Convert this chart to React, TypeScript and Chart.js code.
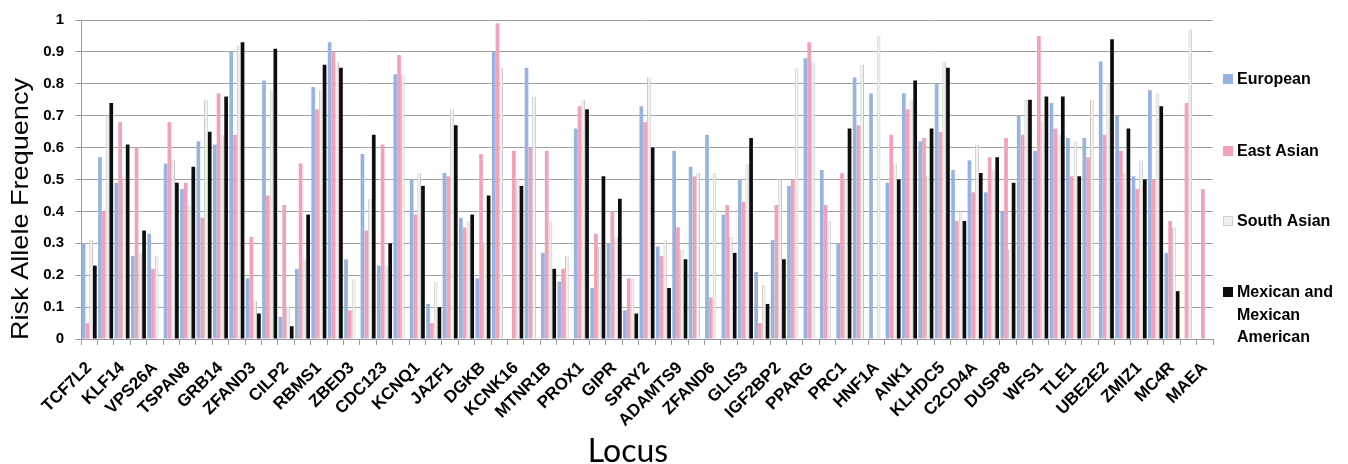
import React, { useEffect, useRef } from 'react';
import { Chart, registerables } from 'chart.js';

Chart.register(...registerables);

// Loci whose labels are visible on the axis (every other category)
const shownLoci = [
  'TCF7L2', 'KLF14', 'VPS26A', 'TSPAN8', 'GRB14', 'ZFAND3', 'CILP2', 'RBMS1', 'ZBED3',
  'CDC123', 'KCNQ1', 'JAZF1', 'DGKB', 'KCNK16', 'MTNR1B', 'PROX1', 'GIPR', 'SPRY2',
  'ADAMTS9', 'ZFAND6', 'GLIS3', 'IGF2BP2', 'PPARG', 'PRC1', 'HNF1A', 'ANK1', 'KLHDC5',
  'C2CD4A', 'DUSP8', 'WFS1', 'TLE1', 'UBE2E2', 'ZMIZ1', 'MC4R', 'MAEA',
];

const european = [
  0.30, 0.57, 0.49, 0.26, 0.33, 0.55, 0.47, 0.62, 0.61, 0.90,
  0.19, 0.81, 0.07, 0.22, 0.79, 0.93, 0.25, 0.58, 0.23, 0.83,
  0.50, 0.11, 0.52, 0.38, 0.19, 0.90, null, 0.85, 0.27, 0.18,
  0.66, 0.16, 0.30, 0.09, 0.73, 0.29, 0.59, 0.54, 0.64, 0.39,
  0.50, 0.21, 0.31, 0.48, 0.88, 0.53, 0.30, 0.82, 0.77, 0.49,
  0.77, 0.62, 0.80, 0.53, 0.56, 0.46, 0.40, 0.70, 0.59, 0.74,
  0.63, 0.63, 0.87, 0.70, 0.51, 0.78, 0.27, null, null,
];

const eastAsian = [
  0.05, 0.40, 0.68, 0.60, 0.22, 0.68, 0.49, 0.38, 0.77, 0.64,
  0.32, 0.45, 0.42, 0.55, 0.72, 0.90, 0.09, 0.34, 0.61, 0.89,
  0.39, 0.05, 0.51, 0.35, 0.58, 0.99, 0.59, 0.60, 0.59, 0.22,
  0.73, 0.33, 0.40, 0.19, 0.68, 0.26, 0.35, 0.51, 0.13, 0.42,
  0.43, 0.05, 0.42, 0.50, 0.93, 0.42, 0.52, 0.67, null, 0.64,
  0.72, 0.63, 0.65, 0.37, 0.46, 0.57, 0.63, 0.64, 0.95, 0.66,
  0.51, 0.57, 0.64, 0.59, 0.47, 0.50, 0.37, 0.74, 0.47,
];

const southAsian = [
  0.31, 0.70, 0.50, 0.27, 0.26, 0.56, 0.42, 0.75, 0.64, 0.92,
  0.12, 0.78, 0.10, 0.25, 0.78, 0.87, 0.19, 0.44, 0.23, 0.83,
  0.52, 0.18, 0.72, 0.37, 0.30, 0.85, 0.50, 0.76, 0.37, 0.26,
  0.75, 0.29, 0.32, 0.19, 0.82, 0.31, 0.28, 0.52, 0.52, 0.32,
  0.55, 0.17, 0.50, 0.85, 0.87, 0.37, 0.50, 0.86, 0.95, 0.55,
  0.75, 0.51, 0.87, 0.40, 0.61, 0.53, 0.28, 0.75, 0.68, 0.64,
  0.62, 0.75, 0.80, 0.52, 0.56, 0.77, 0.35, 0.97, null,
];

const mexican = [
  0.23, 0.74, 0.61, 0.34, null, 0.49, 0.54, 0.65, 0.76, 0.93,
  0.08, 0.91, 0.04, 0.39, 0.86, 0.85, null, 0.64, 0.30, null,
  0.48, 0.10, 0.67, 0.39, 0.45, null, 0.48, null, 0.22, null,
  0.72, 0.51, 0.44, 0.08, 0.60, 0.16, 0.25, null, null, 0.27,
  0.63, 0.11, 0.25, null, null, null, 0.66, null, null, 0.50,
  0.81, 0.66, 0.85, 0.37, 0.52, 0.57, 0.49, 0.75, 0.76, 0.76,
  0.51, null, 0.94, 0.66, 0.50, 0.73, 0.15, null, null,
];

const seriesNames = ['European', 'East Asian', 'South Asian', 'Mexican and Mexican American'];
const legendLines = [['European'], ['East Asian'], ['South Asian'], ['Mexican and', 'Mexican', 'American']];
const seriesColors = ['#97b3e2', '#f2a2b6', '#f0f0f0', '#0d0d0d'];
const seriesBorders = ['#89a6d8', '#e693a8', '#c6c6c6', '#000000'];

const categories = european.map((_, i) => (i % 2 === 0 ? shownLoci[i / 2] : ''));

const overlayPlugin = {
  id: 'overlay',
  afterDraw(chart: any) {
    const ctx = chart.ctx as CanvasRenderingContext2D;
    ctx.save();
    // Y axis title
    ctx.fillStyle = '#000';
    ctx.font = '24px "Liberation Sans", Arial, sans-serif';
    ctx.textAlign = 'center';
    ctx.textBaseline = 'middle';
    const yTitle = 'Risk Allele Frequency';
    const w = ctx.measureText(yTitle).width;
    ctx.translate(21, 209);
    ctx.rotate(-Math.PI / 2);
    ctx.scale(262 / w, 1);
    ctx.fillText(yTitle, 0, 0);
    ctx.restore();

    // X axis title
    ctx.save();
    ctx.fillStyle = '#000';
    ctx.font = '32px Lato, "Open Sans", sans-serif';
    ctx.textAlign = 'center';
    ctx.textBaseline = 'alphabetic';
    ctx.fillText('Locus', 628, 462);
    ctx.restore();

    // Legend
    ctx.save();
    const centers = [80, 152, 222, 293];
    ctx.font = 'bold 16px "Liberation Sans", Arial, sans-serif';
    ctx.textAlign = 'left';
    ctx.textBaseline = 'middle';
    legendLines.forEach((lines, i) => {
      const cy = centers[i];
      ctx.fillStyle = seriesColors[i];
      ctx.fillRect(1223, cy - 6, 10, 10);
      if (i === 2) {
        ctx.strokeStyle = '#d0d0d0';
        ctx.lineWidth = 1;
        ctx.strokeRect(1223.5, cy - 5.5, 9, 9);
      }
      ctx.fillStyle = '#000';
      lines.forEach((t, j) => ctx.fillText(t, 1237, cy + j * 22.5));
    });
    ctx.restore();
  },
};

export default function App() {
  const ref = useRef<HTMLCanvasElement | null>(null);
  useEffect(() => {
    if (!ref.current) return;
    const data = [european, eastAsian, southAsian, mexican];
    const chart = new Chart(ref.current, {
      type: 'bar',
      data: {
        labels: categories,
        datasets: data.map((d, i) => ({
          label: seriesNames[i],
          data: d,
          backgroundColor: seriesColors[i],
          borderColor: seriesBorders[i],
          borderWidth: i === 2 ? { left: 1, right: 1, top: 0, bottom: 0 } : 0,
          borderSkipped: 'bottom',
          categoryPercentage: 0.92,
          barPercentage: 0.98,
        })),
      },
      options: {
        animation: false,
        responsive: true,
        maintainAspectRatio: false,
        layout: { padding: { left: 0, right: 135, top: 19, bottom: 0 } },
        plugins: {
          legend: { display: false },
          tooltip: { enabled: false },
          title: { display: false },
        },
        scales: {
          x: {
            offset: true,
            grid: {
              offset: true,
              drawOnChartArea: false,
              drawTicks: true,
              tickLength: 6,
              color: '#9a9a9a',
            },
            border: { display: true, color: '#9a9a9a', width: 1 },
            ticks: {
              autoSkip: false,
              maxRotation: 45,
              minRotation: 45,
              padding: 13,
              color: '#000',
              font: { family: '"Liberation Sans", Arial, sans-serif', weight: 'bold', size: 17 },
            },
            afterFit: (scale: any) => {
              scale.height = 125;
            },
          },
          y: {
            min: 0,
            max: 1,
            ticks: {
              stepSize: 0.1,
              padding: 11,
              color: '#000',
              font: { family: '"Liberation Sans", Arial, sans-serif', weight: 'bold', size: 15 },
              callback: (v: any) => String(+Number(v).toFixed(1)),
            },
            grid: { color: '#a3a3a3', tickLength: 6, lineWidth: 1 },
            border: { display: true, color: '#9a9a9a' },
            afterFit: (scale: any) => {
              scale.width = 81;
            },
          },
        },
      },
      plugins: [overlayPlugin],
    });
    return () => chart.destroy();
  }, []);

  return (
    <div style={{ position: 'absolute', left: 0, top: 0, width: 1348, height: 464, background: '#fff' }}>
      <canvas ref={ref} />
    </div>
  );
}
